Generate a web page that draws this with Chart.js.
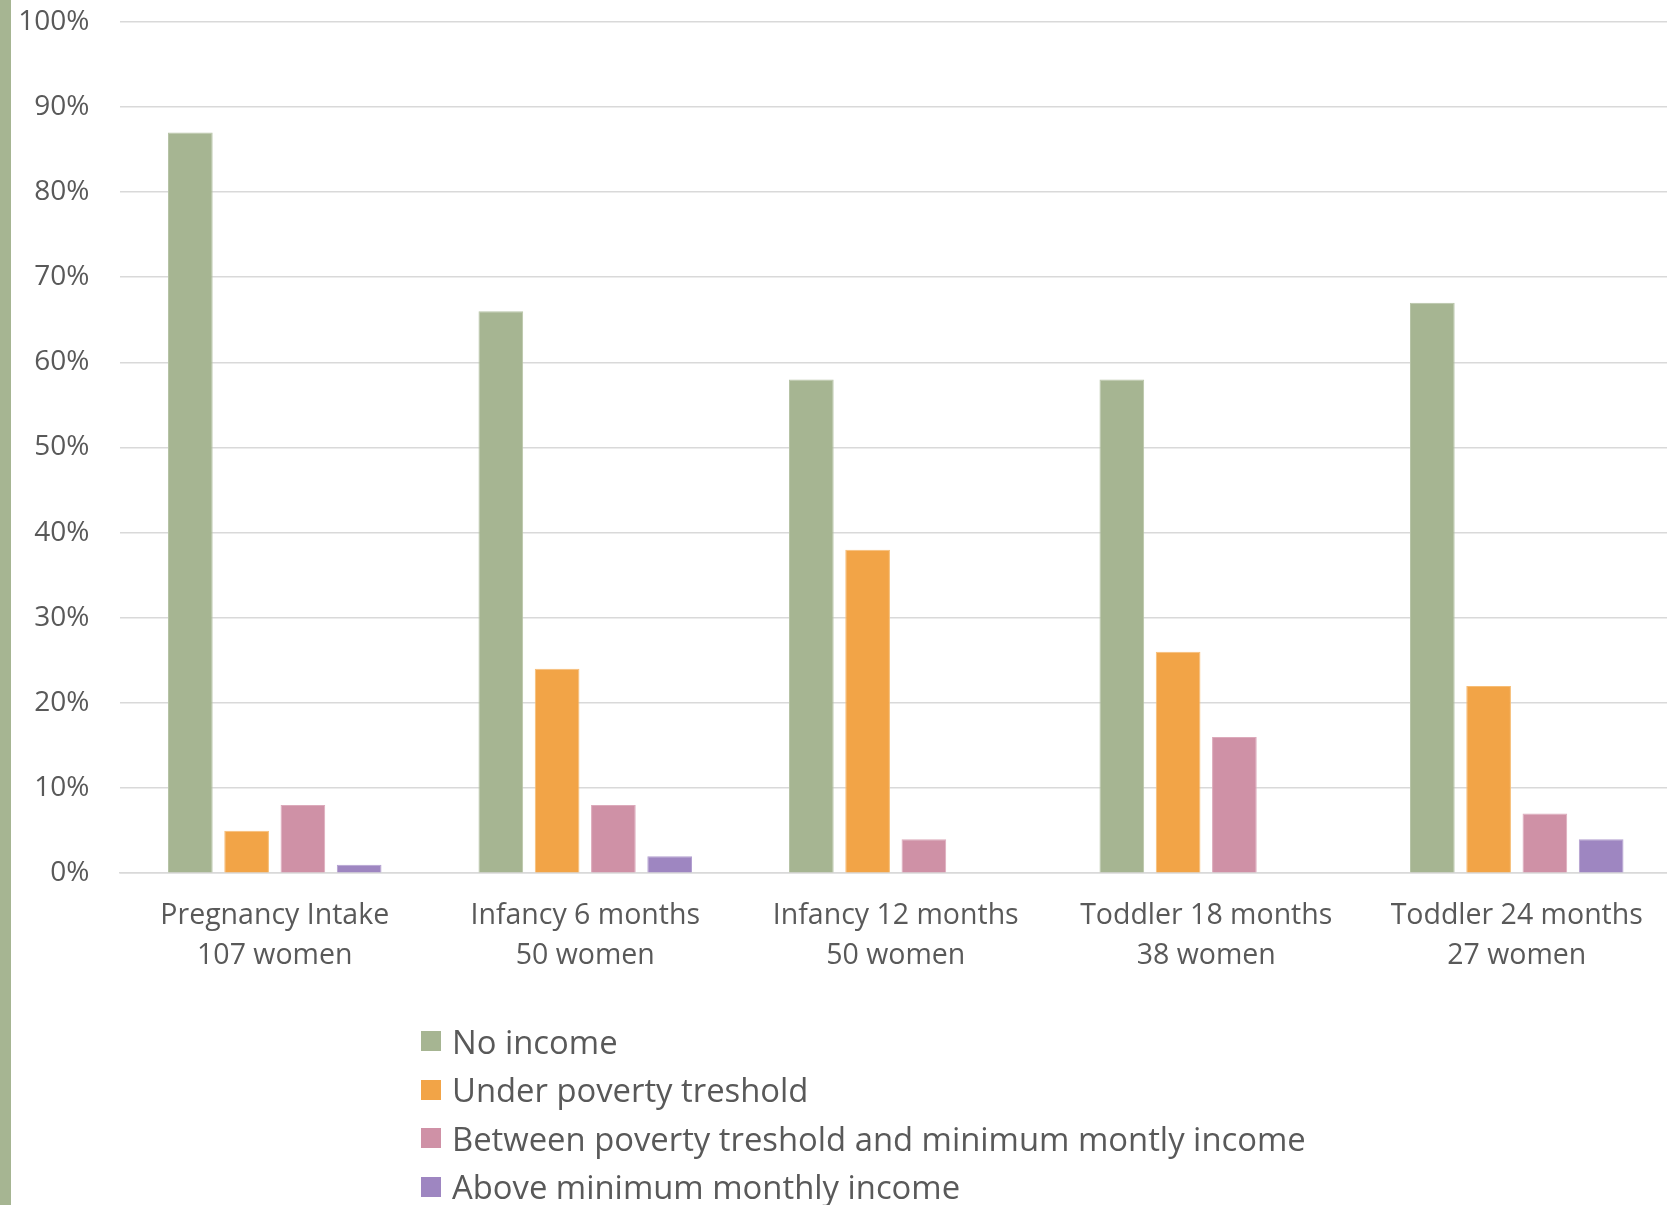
<!DOCTYPE html>
<html lang="en">
<head>
    <meta charset="UTF-8">
    <title>Income level by stage</title>
    <script src="https://cdn.jsdelivr.net/npm/chart.js@4.4.1/dist/chart.umd.min.js"></script>
    <style>
        html, body { margin: 0; padding: 0; background: #fff; }
        body { width: 1667px; height: 1205px; position: relative; overflow: hidden; font-family: 'Open Sans', sans-serif; }
        .strip { position: absolute; left: 0; top: 0; width: 11px; height: 1205px; background: #a6b592; z-index: 2; }
        .wrap { position: absolute; left: 0; top: -25px; width: 1672px; height: 1205px; }
        #legend { position: absolute; left: 421px; top: 1017px; margin: 0; padding: 0; list-style: none; }
        #legend li { display: flex; align-items: center; height: 48.5px; font-size: 32.8px; color: #595959; white-space: nowrap; }
        #legend .box { width: 20px; height: 20px; margin-right: 11px; flex: none; }
    </style>
</head>
<body>
    <div class="strip"></div>
    <div class="wrap"><canvas id="incomeChart"></canvas></div>
    <ul id="legend"></ul>

    <script>
        const stages = [
            ['Pregnancy Intake', '107 women'],
            ['Infancy 6 months', '50 women'],
            ['Infancy 12 months', '50 women'],
            ['Toddler 18 months', '38 women'],
            ['Toddler 24 months', '27 women']
        ];
        const seriesNames = [
            'No income',
            'Under poverty treshold',
            'Between poverty treshold and minimum montly income',
            'Above minimum monthly income'
        ];
        const noIncome = [87, 66, 58, 58, 67];
        const underPoverty = [5, 24, 38, 26, 22];
        const betweenPovertyMin = [8, 8, 4, 16, 7];
        const aboveMinimum = [1, 2, 0, 0, 4];
        const yTicks = [0, 10, 20, 30, 40, 50, 60, 70, 80, 90, 100];

        const fills = ['#a6b592', '#f2a447', '#cf91a6', '#9e86c1'];
        const edges = ['#b7c4a6', '#f7bd75', '#dcaabb', '#b3a0d0'];
        const allSeries = [noIncome, underPoverty, betweenPovertyMin, aboveMinimum];

        const datasets = allSeries.map(function(values, i) {
            return {
                label: seriesNames[i],
                data: values,
                backgroundColor: fills[i],
                borderColor: edges[i],
                borderWidth: 1,
                categoryPercentage: 0.725,
                barPercentage: 0.794
            };
        });

        const ctx = document.getElementById('incomeChart').getContext('2d');
        const chart = new Chart(ctx, {
            type: 'bar',
            data: { labels: stages, datasets: datasets },
            options: {
                responsive: true,
                maintainAspectRatio: false,
                animation: false,
                layout: { padding: { top: 0, right: 0, bottom: 189, left: 0 } },
                plugins: {
                    legend: { display: false },
                    tooltip: { enabled: false }
                },
                scales: {
                    x: {
                        grid: { display: false },
                        border: { display: true, color: '#d9d9d9', width: 1.5 },
                        ticks: {
                            color: '#595959',
                            font: { family: "'Open Sans', sans-serif", size: 28.5, lineHeight: 1.4 },
                            padding: 15,
                            maxRotation: 0,
                            autoSkip: false
                        }
                    },
                    y: {
                        min: 0,
                        max: 100,
                        afterFit: function(scale) { scale.width = 119.5; },
                        afterBuildTicks: function(scale) {
                            scale.ticks = yTicks.map(function(v) { return { value: v }; });
                        },
                        grid: { color: '#d9d9d9', lineWidth: 1.5, drawTicks: false },
                        border: { display: false },
                        ticks: {
                            color: '#595959',
                            font: { family: "'Open Sans', sans-serif", size: 28 },
                            padding: 30,
                            callback: function(value) { return value + '%'; }
                        }
                    }
                }
            }
        });

        const legendEl = document.getElementById('legend');
        chart.data.datasets.forEach(function(ds) {
            const li = document.createElement('li');
            const box = document.createElement('span');
            box.className = 'box';
            box.style.background = ds.backgroundColor;
            li.appendChild(box);
            li.appendChild(document.createTextNode(ds.label));
            legendEl.appendChild(li);
        });
    </script>
</body>
</html>
